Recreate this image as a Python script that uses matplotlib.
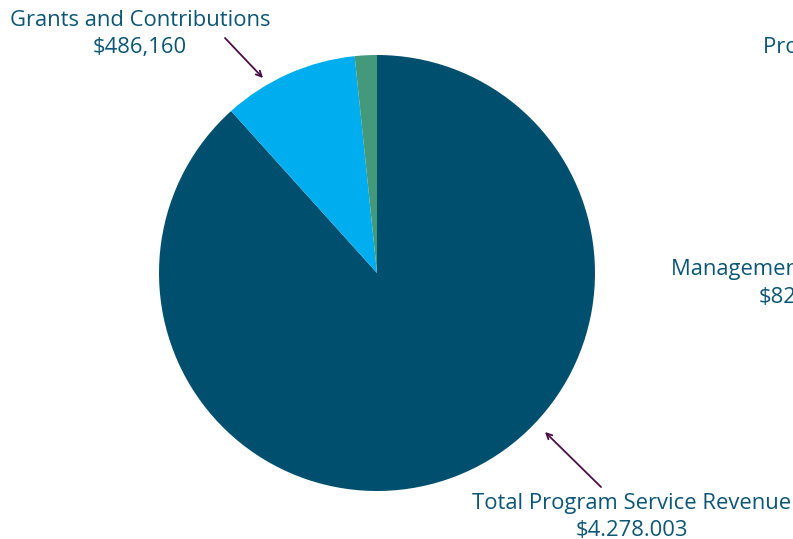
import matplotlib.pyplot as plt

# revenue breakdown
labels = ['Total Program Service Revenue', 'Grants and Contributions', 'Other']
values = [4278003, 486160, 79000]
colors = ['#014f6f', '#00aeef', '#44997a']
label_text = ['$4.278.003', '$486,160', '']

W, H = 793, 539
fig = plt.figure(figsize=(W / 100, H / 100), dpi=100)
plt.rcParams['font.family'] = ['Open Sans', 'DejaVu Sans']
txt_color = '#0b5675'
arrow_color = '#4a0f46'

# pie axes: centre (377, 273) px, radius 218 px
cx, cy, r = 377, 273, 218
ax = fig.add_axes([(cx - r) / W, (H - cy - r) / H, 2 * r / W, 2 * r / H])
ax.pie(values, colors=colors, startangle=90, counterclock=False,
       wedgeprops=dict(linewidth=0))
ax.set_xlim(-1, 1)
ax.set_ylim(-1, 1)
ax.set_aspect('equal')
ax.axis('off')


def ftext(x, y, s, **kw):
    fig.text(x / W, 1 - y / H, s, color=txt_color, fontsize=15.8,
             fontweight='medium', va='center', **kw)


ftext(140, 21, labels[1], ha='center')
ftext(140, 48, label_text[1], ha='center')
ftext(632, 504, labels[0], ha='center')
ftext(632, 530, label_text[0], ha='center')

# labels of the neighbouring chart, cut off at the right edge
ftext(763, 47, 'Program Services', ha='left')
ftext(671, 270, 'Management and General', ha='left')
ftext(759, 297, '$820,000', ha='left')

arrow = dict(arrowstyle='->', color=arrow_color, lw=1.3, shrinkA=0, shrinkB=0)
ax.annotate('', xy=(263, H - 78), xytext=(225, H - 38),
            xycoords='figure pixels', textcoords='figure pixels', arrowprops=arrow)
ax.annotate('', xy=(545, H - 432), xytext=(601, H - 487),
            xycoords='figure pixels', textcoords='figure pixels', arrowprops=arrow)

fig.savefig('out.png', dpi=100)
